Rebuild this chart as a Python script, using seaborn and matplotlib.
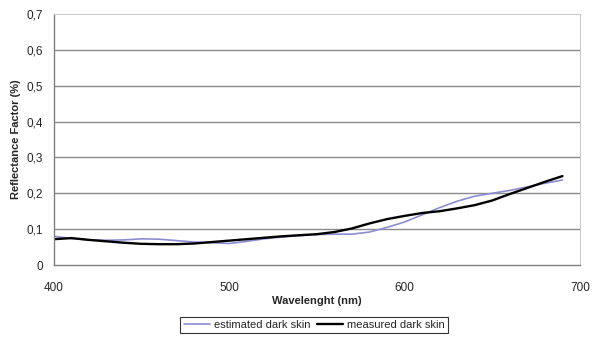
import matplotlib
matplotlib.use("Agg")
import matplotlib.pyplot as plt
import seaborn as sns
import pandas as pd

wavelength = [400, 410, 420, 430, 440, 450, 460, 470, 480, 490, 500, 510, 520, 530, 540,
              550, 560, 570, 580, 590, 600, 610, 620, 630, 640, 650, 660, 670, 680, 690]
estimated = [0.080, 0.074, 0.070, 0.069, 0.070, 0.073, 0.072, 0.068, 0.064, 0.062, 0.060, 0.066,
             0.073, 0.078, 0.082, 0.085, 0.086, 0.086, 0.092, 0.105, 0.120, 0.140, 0.160, 0.178,
             0.192, 0.200, 0.208, 0.218, 0.228, 0.237]
measured = [0.072, 0.075, 0.070, 0.066, 0.062, 0.059, 0.058, 0.058, 0.060, 0.064, 0.068, 0.072,
            0.076, 0.080, 0.083, 0.086, 0.092, 0.102, 0.116, 0.128, 0.137, 0.145, 0.150, 0.158,
            0.167, 0.180, 0.198, 0.215, 0.232, 0.248]
series_names = ["estimated dark skin", "measured dark skin"]
x_ticks = [400, 500, 600, 700]
y_ticks = [0, 0.1, 0.2, 0.3, 0.4, 0.5, 0.6, 0.7]
y_labels = ["0", "0,1", "0,2", "0,3", "0,4", "0,5", "0,6", "0,7"]

df = pd.DataFrame({
    "wl": wavelength * 2,
    "val": estimated + measured,
    "series": [series_names[0]] * len(wavelength) + [series_names[1]] * len(wavelength),
})

sns.set_style("white")
plt.rcParams["font.family"] = ["Liberation Sans", "DejaVu Sans"]

fig = plt.figure(figsize=(5.92, 3.43), dpi=100)
ax = fig.add_axes([54 / 592, 78 / 343, 526 / 592, 251 / 343])

sns.lineplot(data=df, x="wl", y="val", hue="series", hue_order=series_names,
             palette=["#8c8cd2", "#000000"], ax=ax, legend=False)
lines = ax.get_lines()
lines[0].set_linewidth(1.2)
lines[1].set_linewidth(1.7)

ax.set_xlim(400, 700)
ax.set_ylim(0, 0.7)
ax.set_xticks(x_ticks)
ax.set_xticklabels([str(v) for v in x_ticks])
ax.set_yticks(y_ticks)
ax.set_yticklabels(y_labels)
for y in y_ticks[1:-1]:
    ax.axhline(y, color="#8a8a8a", lw=1.0, zorder=0)

for s in ["left", "bottom"]:
    ax.spines[s].set_color("#808080")
    ax.spines[s].set_linewidth(1.0)
ax.spines["right"].set_color("#cccccc")
ax.spines["top"].set_color("#cccccc")
ax.tick_params(axis="both", direction="out", length=4, width=1, color="#808080",
               labelsize=8.5, pad=4)
ax.tick_params(axis="x", pad=8)
ax.set_xlabel("Wavelenght (nm)", fontsize=8, fontweight="bold", labelpad=2)
ax.set_ylabel("Reflectance Factor (%)", fontsize=8, fontweight="bold", labelpad=4)

leg = fig.legend(handles=lines, labels=series_names, loc="center", bbox_to_anchor=(314 / 592, 1 - 325 / 343),
                 ncol=2, frameon=True, fancybox=False, fontsize=8, handlelength=2.4,
                 handletextpad=0.3, columnspacing=0.6, borderpad=0.3)
leg.get_frame().set_edgecolor("#000000")
leg.get_frame().set_linewidth(0.8)

fig.savefig("out.png", dpi=100)
